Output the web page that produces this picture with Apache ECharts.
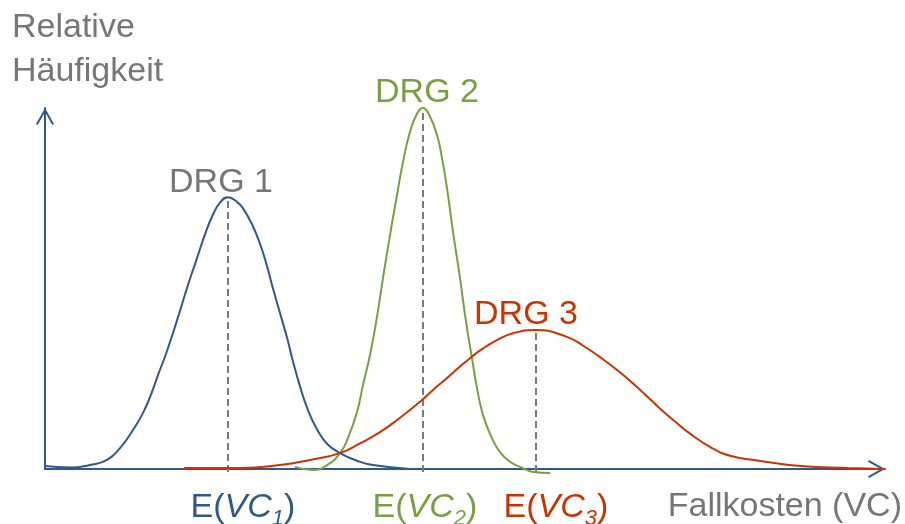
<!DOCTYPE html>
<html>
<head>
<meta charset="utf-8">
<script src="https://cdn.jsdelivr.net/npm/echarts@6/dist/echarts.min.js"></script>
<style>
  html, body { margin: 0; padding: 0; background: #ffffff; }
  #chart { width: 905px; height: 524px; }
</style>
</head>
<body>
<div id="chart"></div>
<script>
// Group names and the index shown under each expected value
const groupNames = ['DRG 1', 'DRG 2', 'DRG 3'];
const subscripts = ['1', '2', '3'];

// [case cost, relative frequency] samples along each cost distribution
const drg1 = [
  [0, 0.8], [2.5, 0.4], [4.5, 1.1], [6.2, 2.5], [7.5, 5.8], [8.8, 10.8],
  [9.7, 15.0], [10.5, 19.9], [11.3, 26.0], [12.2, 32.7], [13.5, 43.8],
  [14.3, 51.0], [15.2, 58.4], [16.0, 65.0], [16.8, 70.5], [17.5, 73.8],
  [18.3, 75.3], [19.2, 74.0], [19.8, 72.2], [20.7, 67.8], [21.5, 62.4],
  [22.2, 56.2], [22.8, 50.0], [23.5, 43.2], [24.2, 36.4], [24.8, 29.8],
  [25.5, 22.9], [26.3, 16.3], [27.2, 11.0], [28.2, 7.0], [29.5, 4.4],
  [31.2, 2.3], [32.8, 1.1], [36.5, 0]
];
const drg2 = [
  [25.0, 0.6], [26.8, -0.3], [28.2, 1.1], [29.5, 4.4], [30.3, 8.6],
  [31.2, 15.8], [31.8, 23.3], [32.5, 31.6], [33.2, 42.2], [33.8, 52.9],
  [34.5, 64.8], [35.2, 75.9], [35.8, 85.0], [36.5, 93.4], [37.2, 98.4],
  [37.8, 100], [38.4, 98.2], [39.2, 92.5], [39.7, 86.1], [40.2, 77.8],
  [40.8, 65.7], [41.5, 52.9], [42.1, 40.8], [42.7, 30.7], [43.2, 22.4],
  [43.8, 15.0], [44.7, 8.5], [45.5, 4.7], [46.5, 2.0], [47.5, 0.6],
  [48.8, -0.8], [50.5, -1.1]
];
const drg3 = [
  [13.9, 0.3], [19.5, 0.3], [23.5, 1.1], [26.5, 2.5], [29.5, 4.4],
  [31.5, 7.1], [33.5, 10.2], [35.5, 14.2], [37.5, 18.6], [38.8, 21.9],
  [40.2, 25.2], [41.3, 27.9], [42.5, 30.7], [43.8, 33.4], [45.2, 35.7],
  [46.8, 37.6], [49.1, 38.5], [52.2, 36.6], [53.9, 34.0], [55.5, 31.0],
  [57.4, 27.0], [59.2, 22.7], [60.6, 19.1], [62.0, 15.5], [63.2, 12.7],
  [64.4, 10.0], [66.7, 5.8], [68.6, 3.6], [70.9, 2.5], [75.6, 0.8],
  [80.3, 0.3], [84.0, 0]
];

// Axis titles
const xTitle = 'Fallkosten (VC)';
const yTitle = 'Relative\nHäufigkeit';

const FONT = '"Liberation Sans", Arial, Helvetica, sans-serif';
const GRAY = '#767676';
const AXIS_BLUE = '#30598A';
const lineColors = ['#30598A', '#77A043', '#CC3300'];
const nameColors = [GRAY, '#77A043', '#CC3300'];
const nameOffsets = [[-7, 2], [4, 2], [-10, 2]];
const expectOffsets = [[15, 16], [2, 16], [20, 16]];

// open arrow head for the axis ends (tip at the top, rotated along the axis)
const chevron = 'path://M0,0 L9,16 L7.3,17 L0,4.1 L-7.3,17 L-9,16 Z';

function peakOf(points) {
  return points.reduce((best, p) => (p[1] > best[1] ? p : best));
}

const curves = [drg1, drg2, drg3];
const series = [];

curves.forEach((pts, i) => {
  const peak = peakOf(pts);
  const c = lineColors[i];
  // dashed drop line from the mode of the distribution down to the cost axis
  series.push({
    type: 'line',
    data: [[peak[0], -0.8], [peak[0], peak[1]]],
    showSymbol: false,
    silent: true,
    clip: false,
    z: 1,
    lineStyle: { color: '#7A7A7A', width: 2, type: [7, 4] },
    emphasis: { disabled: true }
  });
  series.push({
    type: 'line',
    name: groupNames[i],
    data: pts,
    smooth: 0.5,
    showSymbol: false,
    clip: false,
    z: 3,
    lineStyle: { color: c, width: 2 },
    itemStyle: { color: c },
    emphasis: { disabled: true },
    markPoint: {
      silent: true,
      symbol: 'circle',
      symbolSize: 0,
      data: [
        {
          coord: [peak[0], peak[1]],
          label: {
            show: true, position: 'top', distance: 0, offset: nameOffsets[i],
            formatter: groupNames[i], color: nameColors[i],
            fontFamily: FONT, fontSize: 34
          }
        },
        {
          coord: [peak[0], 0],
          label: {
            show: true, position: 'bottom', distance: 6, offset: expectOffsets[i],
            formatter: '{n|E(}{i|VC}{s|' + subscripts[i] + '}{n|)}',
            rich: {
              n: { color: c, fontFamily: FONT, fontSize: 34, verticalAlign: 'top', lineHeight: 34 },
              i: { color: c, fontFamily: FONT, fontSize: 34, fontStyle: 'italic', verticalAlign: 'top', lineHeight: 34 },
              s: { color: c, fontFamily: FONT, fontSize: 22, fontStyle: 'italic', verticalAlign: 'top', lineHeight: 22, padding: [17, 0, 0, 0] }
            }
          }
        }
      ]
    }
  });
});

const chart = echarts.init(document.getElementById('chart'), null, { renderer: 'canvas' });
chart.setOption({
  animation: false,
  backgroundColor: '#ffffff',
  title: {
    text: yTitle,
    left: 12, top: 6, padding: 0,
    textStyle: { fontFamily: FONT, fontSize: 34, fontWeight: 'normal', color: GRAY, lineHeight: 44 }
  },
  grid: { left: 45, right: 20, top: 108, bottom: 55 },
  xAxis: {
    type: 'value', min: 0, max: 84,
    axisLine: {
      show: true, onZero: true,
      symbol: ['none', chevron], symbolSize: [18, 17], symbolOffset: [0, -8.5],
      lineStyle: { color: AXIS_BLUE, width: 2 }
    },
    axisTick: { show: false }, axisLabel: { show: false }, splitLine: { show: false },
    name: xTitle, nameLocation: 'end', nameGap: 17,
    nameTextStyle: {
      fontFamily: FONT, fontSize: 34, color: GRAY,
      align: 'right', verticalAlign: 'top', padding: [21, 0, 0, 0]
    }
  },
  yAxis: {
    type: 'value', min: 0, max: 100,
    axisLine: {
      show: true,
      symbol: ['none', chevron], symbolSize: [18, 17], symbolOffset: [0, -8.5],
      lineStyle: { color: AXIS_BLUE, width: 2 }
    },
    axisTick: { show: false }, axisLabel: { show: false }, splitLine: { show: false }
  },
  series: series
});
</script>
</body>
</html>
